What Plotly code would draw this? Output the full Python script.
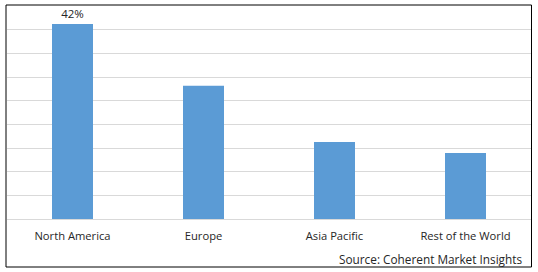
import plotly.graph_objects as go

regions = ["North America", "Europe", "Asia Pacific", "Rest of the World"]
shares = [42, 28.7, 16.6, 14.2]
bar_labels = ["42%", "", "", ""]
source_text = "Source: Coherent Market Insights"

W, H = 538, 272
L, R, T, B = 7, 7, 6, 53
pw, ph = W - L - R, H - T - B
FONT = "Open Sans, Liberation Sans, Arial, sans-serif"

fig = go.Figure()
fig.add_trace(go.Bar(
    x=regions, y=shares,
    marker=dict(color="#5B9BD5", line=dict(width=0)),
    text=bar_labels, textposition="outside",
    textfont=dict(family=FONT, size=11.5, color="#262626"),
    cliponaxis=False,
    hoverinfo="skip",
))

def px_x(x):
    return (x - L) / pw

def px_y(y):
    return (H - B - y) / ph

fig.update_layout(
    width=W, height=H,
    margin=dict(l=L, r=R, t=T, b=B),
    paper_bgcolor="white", plot_bgcolor="white",
    bargap=0.687,
    showlegend=False,
    font=dict(family=FONT, size=11, color="#262626"),
    xaxis=dict(
        showgrid=False, showline=False, zeroline=False,
        ticks="outside", ticklen=7, tickcolor="rgba(0,0,0,0)",
        tickfont=dict(family=FONT, size=11.2, color="#262626"),
        fixedrange=True,
    ),
    yaxis=dict(
        range=[0, 45.9], dtick=5.1, showticklabels=False,
        showgrid=True, gridcolor="#D9D9D9", gridwidth=1,
        zeroline=True, zerolinecolor="#D9D9D9", zerolinewidth=1,
        showline=False, fixedrange=True,
    ),
    shapes=[dict(
        type="rect", xref="paper", yref="paper",
        x0=px_x(6), x1=px_x(531.5), y0=px_y(267), y1=px_y(5),
        line=dict(color="black", width=1), fillcolor="rgba(0,0,0,0)",
        layer="above",
    )],
    annotations=[dict(
        text=source_text, xref="paper", yref="paper",
        x=px_x(524), y=px_y(259), xanchor="right", yanchor="middle",
        showarrow=False, font=dict(family=FONT, size=11.8, color="#262626"),
    )],
)

fig.write_html("out.html")
